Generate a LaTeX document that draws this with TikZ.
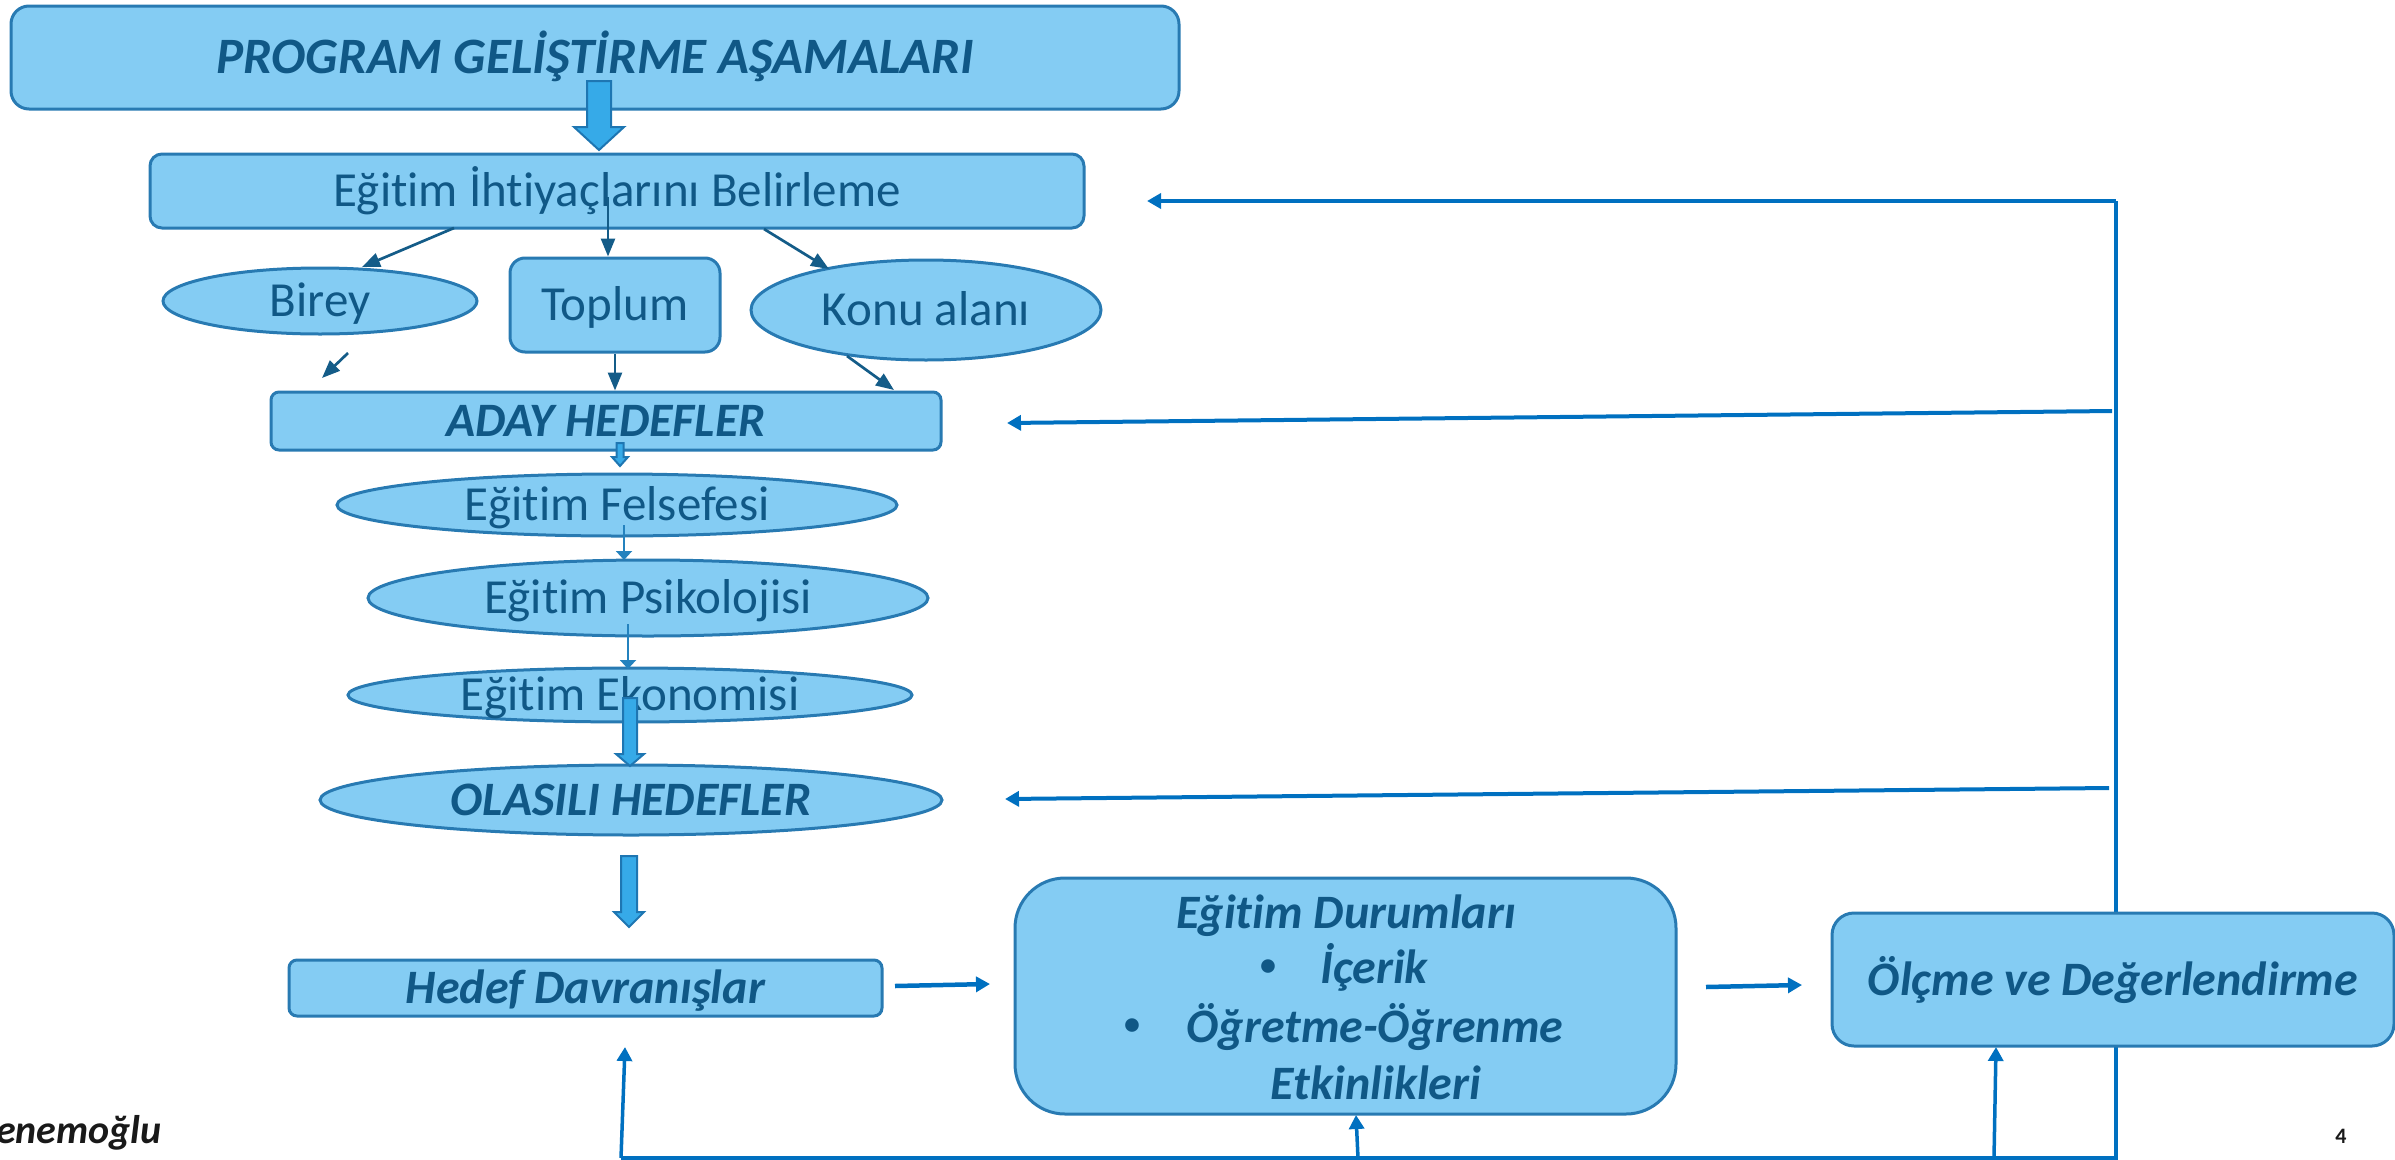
\documentclass[tikz,border=0pt]{standalone}
\usepackage{fontspec}
\setmainfont{Carlito}[Ligatures=NoCommon]
\usetikzlibrary{arrows.meta,shapes.geometric}
\pgfdeclarelayer{bg}
\pgfsetlayers{bg,main}
\definecolor{boxfill}{RGB}{132,204,243}
\definecolor{boxline}{RGB}{40,122,178}
\definecolor{txt}{RGB}{16,88,134}
\definecolor{fb}{RGB}{0,112,192}
\definecolor{darkar}{RGB}{20,92,136}
\definecolor{midar}{RGB}{36,130,190}
\definecolor{bafill}{RGB}{54,170,232}
\definecolor{baline}{RGB}{30,118,178}
\newcommand\myvarrow[6]{%
  \filldraw[fill=bafill, draw=baline, line width=2pt, line join=miter]
  (#1-#4,#2) -- (#1+#4,#2) -- (#1+#4,#3-#6) -- (#1+#5,#3-#6) -- (#1,#3)
  -- (#1-#5,#3-#6) -- (#1-#4,#3-#6) -- cycle;}
\tikzset{
  shapebase/.style={fill=boxfill, draw=boxline, line width=3pt, text=txt,
    inner sep=0pt, text height=31pt, text depth=0pt,
    font=\fontsize{49}{58}\selectfont},
  rbox/.style={shapebase, rectangle, rounded corners=#1},
  rbox/.default=10pt,
  ell/.style={shapebase, ellipse},
  bi/.style={font=\fontsize{48}{58}\selectfont\bfseries\itshape},
  plaintxt/.style={text=txt, inner sep=0pt, text height=31pt, text depth=0pt},
  bul/.style={text=txt, inner sep=0pt, font=\fontsize{32}{32}\selectfont\bfseries},
  dk/.style={draw=darkar, line width=2.7pt, -{Triangle[length=18pt,width=14pt]}},
  midarr/.style={draw=midar, line width=2pt, -{Triangle[length=9pt,width=16pt]}},
  fbline/.style={draw=fb, line width=3.5pt},
  fbarr/.style={draw=fb, line width=4pt, -{Triangle[length=14pt,width=15pt]}},
  fbup/.style={draw=fb, line width=3.5pt, -{Triangle[length=14pt,width=15pt]}},
}
\begin{document}
\begin{tikzpicture}[x=1pt,y=-1pt]
\useasboundingbox (0,0) rectangle (2395,1159);

% nodes
\node[rbox=18pt, bi, minimum width=1168pt, minimum height=103pt, text height=32pt,
  font=\fontsize{51}{60}\selectfont\bfseries\itshape] (title) at (595,57.5) {PROGRAM GELİŞTİRME AŞAMALARI};
\node[rbox=12pt, minimum width=934pt, minimum height=74pt] (eib) at (617,191) {Eğitim İhtiyaçlarını Belirleme};
\node[ell, minimum width=314pt, minimum height=66pt] (birey) at (320,301) {Birey};
\node[rbox=15pt, minimum width=210pt, minimum height=94pt] (toplum) at (615,305) {Toplum};
\node[ell, minimum width=350pt, minimum height=100pt] (konu) at (926,310) {Konu alanı};
\node[rbox=8pt, bi, minimum width=670pt, minimum height=58pt] (aday) at (606,421) {ADAY HEDEFLER};
\node[ell, minimum width=560pt, minimum height=62pt] (fels) at (617,505) {Eğitim Felsefesi};
\node[ell, minimum width=560pt, minimum height=76pt] (psik) at (648,598) {Eğitim Psikolojisi};
\node[ell, minimum width=564pt, minimum height=54pt] (ekon) at (630,695) {Eğitim Ekonomisi};
\node[ell, bi, minimum width=622pt, minimum height=70pt] (olas) at (631,800) {OLASILI HEDEFLER};
\node[rbox=8pt, bi, minimum width=593pt, minimum height=56pt] (hedef) at (585.5,988) {Hedef Davranışlar};
\node[rbox=50pt, minimum width=661pt, minimum height=236pt] (ed) at (1345.5,996) {};
\node[rbox=22pt, bi, minimum width=562pt, minimum height=133pt] (olc) at (2113,979.5) {Ölçme ve Değerlendirme};

% text inside Egitim Durumlari
\node[plaintxt, bi] (ed1) at (1346,913) {Eğitim Durumları};
\node[plaintxt, bi] (ed2) at (1374,968) {İçerik};
\node[plaintxt, bi] (ed3) at (1375,1027) {Öğretme-Öğrenme};
\node[plaintxt, bi] (ed4) at (1376,1084) {Etkinlikleri};
\node[bul] (b1) at (1268,968) {•};
\node[bul] (b2) at (1132,1027) {•};

% block arrows
\myvarrow{599}{81}{150}{12}{25}{23}
\myvarrow{620}{443}{466}{3.5}{8}{9}
\myvarrow{630}{698}{766}{7}{14}{12}
\myvarrow{629}{856}{927}{8}{15}{15}

% small dark arrows
\coordinate (c1) at (454,228);
\coordinate (c2) at (362,267);
\coordinate (c3) at (608,197);
\coordinate (c4) at (764,229);
\coordinate (c5) at (829,269);
\coordinate (c6) at (348,353);
\coordinate (c7) at (322,378);
\coordinate (c8) at (847,356);
\coordinate (c9) at (894,390);
\draw[dk] (c1) -- (c2);
\draw[dk] (c3) -- (c3 |- toplum.north);
\draw[dk] (c4) -- (c5);
\draw[dk] (c6) -- (c7);
\draw[dk] (toplum.south) -- (toplum.south |- aday.north);
\draw[dk] (c8) -- (c9);

% mid arrows
\draw[midarr] (624,525) -- (624,560);
\draw[midarr] (628,624) -- (628,669);

% feedback loop
\coordinate (fbTop) at (2116,201);
\coordinate (fbBot) at (2116,1158);
\coordinate (fbLeft) at (621,1158);
\begin{pgfonlayer}{bg}
\draw[fbline] (fbTop) -- (fbBot) -- (fbLeft);
\end{pgfonlayer}
\coordinate (t1) at (1147,201);
\coordinate (s2) at (2112,411);
\coordinate (t2) at (1007,423);
\coordinate (s3) at (2109,788);
\coordinate (t3) at (1005,799);
\draw[fbarr] (fbTop) -- (t1);
\draw[fbarr] (s2) -- (t2);
\draw[fbarr] (s3) -- (t3);
\coordinate (u1) at (625,1047);
\draw[fbup] (fbLeft) -- (u1);
\coordinate (u2b) at (1358,1158);
\draw[fbup] (u2b) -- (1356,1115);
\coordinate (u3b) at (1994,1158);
\draw[fbup] (u3b) -- (1996,1047);

% horizontal arrows bottom row
\coordinate (h1s) at (895,986);
\coordinate (h1t) at (990,984);
\coordinate (h2s) at (1706,987);
\coordinate (h2t) at (1802,985);
\draw[fbarr, line width=4.5pt] (h1s) -- (h1t);
\draw[fbarr, line width=4.5pt] (h2s) -- (h2t);

% footer texts
\node[anchor=base west, inner sep=0pt, text=black!90,
  font=\fontsize{40}{40}\selectfont\bfseries\itshape] (auth) at (-4,1143) {enemoğlu};
\node[inner sep=0pt, text=black!90, font=\fontsize{22}{22}\selectfont\bfseries] (pg) at (2341,1136) {4};
\end{tikzpicture}
\end{document}
